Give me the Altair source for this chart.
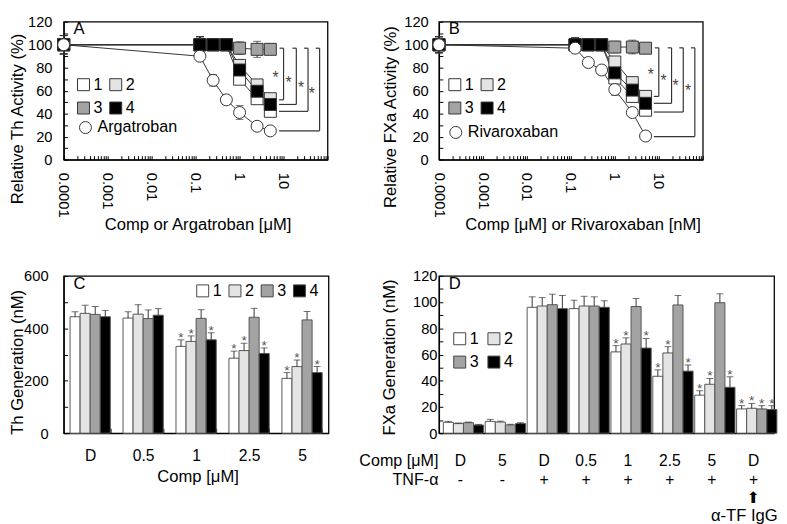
import altair as alt
import pandas as pd

FONT = "Liberation Sans"
SERIES = ["1", "2", "3", "4"]
FILLS = ["#ffffff", "#e4e4e4", "#a3a3a3", "#000000"]

# ---------------- Panel A : relative thrombin activity ----------------
A_conc = [0.0001, 0.125, 0.25, 0.5, 1, 2.5, 5]
A_comp1 = [100, 100, 100, 100, 70, 53, 42]
A_comp2 = [100, 100, 100, 100, 82, 65, 53]
A_comp3 = [100, 100, 100, 100, 97, 96, 96]
A_comp4 = [100, 100, 100, 100, 78, 59.5, 48]
A_argatroban = [100, 90, 69, 52, 41, 29, 25]
A_err1 = [8, 7, 3, 3, 4, 3, 3]
A_err2 = [8, 7, 3, 3, 4, 3, 3]
A_err3 = [8, 7, 3, 3, 5.5, 7, 4.5]
A_err4 = [8, 7, 3, 3, 4, 3, 3]
A_err_ref = [8, 4, 5, 4, 6, 3, 2]
A_br_x = [10, 19.5, 36, 66]
A_br_stub = [8.1, 15.9, 29.3, 53.7]
A_br_top = [97, 97, 97, 97]
A_br_bottom = [52, 48, 42, 25]
A_br_start = [7.9, 7.9, 7.9, 7.9]
A_star_x = [6.6, 12.9, 25, 44]
A_star_y = [74, 70, 65.5, 60]

# ---------------- Panel B : relative FXa activity ----------------
B_conc = [0.0001, 0.125, 0.25, 0.5, 1, 2.5, 5]
B_comp1 = [100, 100, 100, 100, 71, 55, 43]
B_comp2 = [100, 100, 100, 100, 85, 67, 55]
B_comp3 = [100, 100, 100, 100, 98, 98, 97]
B_comp4 = [100, 100, 100, 100, 75.5, 60.5, 49]
B_rivaroxaban = [100, 97, 84.5, 78, 61, 41, 20.5]
B_err1 = [7, 6, 3, 3, 3, 3, 3]
B_err2 = [7, 6, 3, 3, 3, 3, 3]
B_err3 = [7, 6, 3, 3, 5, 6, 3]
B_err4 = [7, 6, 3, 3, 3, 3, 3]
B_err_ref = [7, 3, 4, 2, 5, 3, 2]
B_br_x = [10, 19.5, 36, 66]
B_br_stub = [8.1, 15.9, 29.3, 53.7]
B_br_top = [97.3, 97.3, 97.3, 97.3]
B_br_bottom = [55, 49, 41.4, 20]
B_br_start = [7.7, 7.7, 7.7, 7.7]
B_star_x = [6.6, 12.9, 23.9, 46.4]
B_star_y = [76.6, 71.5, 67, 63]

# ---------------- Panel C : thrombin generation ----------------
C_groups = ["D", "0.5", "1", "2.5", "5"]
C_val1 = [444, 439, 331, 286, 209]
C_val2 = [457, 454, 350, 315, 254]
C_val3 = [453, 437, 438, 442, 432]
C_val4 = [444, 450, 356, 304, 231]
C_err1 = [19, 24, 25, 27, 22]
C_err2 = [31, 36, 21, 28, 25]
C_err3 = [30, 33, 33, 34, 32]
C_err4 = [24, 25, 27, 21, 23]
C_star1 = [0, 0, 1, 1, 1]
C_star2 = [0, 0, 1, 1, 1]
C_star3 = [0, 0, 0, 0, 0]
C_star4 = [0, 0, 1, 1, 1]

# ---------------- Panel D : FXa generation ----------------
D_comp = ["D", "5", "D", "0.5", "1", "2.5", "5", "D"]
D_tnf = ["-", "-", "+", "+", "+", "+", "+", "+ "]
D_val1 = [8.3, 9, 96, 95, 62, 43.4, 29, 18.5]
D_val2 = [7.3, 8.5, 97, 97, 68, 61.2, 37.3, 19]
D_val3 = [8, 6.3, 98, 97, 96.6, 97.8, 99.5, 18.5]
D_val4 = [6.2, 7.3, 95, 96, 64.9, 47.3, 35, 18]
D_err1 = [0.7, 1.5, 8, 6.4, 4.8, 4.9, 3.4, 2.5]
D_err2 = [0.5, 0.7, 6.4, 7.4, 4.7, 4.8, 4.4, 3.7]
D_err3 = [0.5, 0.5, 8, 7, 6.1, 7.2, 6.8, 2.5]
D_err4 = [0.5, 0.7, 10, 5, 7.3, 4.7, 8, 3]
D_star1 = [0, 0, 0, 0, 1, 1, 1, 1]
D_star2 = [0, 0, 0, 0, 1, 1, 1, 1]
D_star3 = [0, 0, 0, 0, 0, 0, 0, 1]
D_star4 = [0, 0, 0, 0, 1, 1, 1, 1]
D_note = ["⬆", "α-TF IgG"]

LOG_MAJOR = [0.0001, 0.001, 0.01, 0.1, 1, 10]
LOG_TICKS = [k * 10.0 ** d for d in range(-4, 2) for k in range(1, 10)] + [100]
LOG_TICKS = [float(f"{v:.6g}") for v in LOG_TICKS]


def letter_title(letter):
    return alt.TitleParams(letter, anchor="start", frame="group", offset=0, dx=10, dy=24,
                           baseline="top", fontSize=17, fontWeight="normal")


def curve_panel(conc, comps, errs, ref_name, ref_vals, ref_err,
                br_x, br_stub, br_top, br_bot, br_start, star_x, star_y,
                letter, ytitle, xtitle, ytitle_x, ytitle_y, xtitle_x,
                ylabel_pad, sq_leg_xy, ref_leg_xy):
    rows = []
    for name, vals, ev in [(ref_name, ref_vals, ref_err)] + list(zip(SERIES, comps, errs)):
        for c, v, e in zip(conc, vals, ev):
            rows.append({"series": name, "conc": c, "value": v, "lo": v - e, "hi": v + e})
    df = pd.DataFrame(rows)
    br = pd.DataFrame({"bx": br_x, "stub": br_stub, "top": br_top, "bot": br_bot,
                       "start": br_start})
    st = pd.DataFrame({"sx": star_x, "sy": star_y})

    xscale = alt.Scale(type="log", domain=[0.0001, 100], nice=False)
    yscale = alt.Scale(domain=[0, 120], nice=False)
    major_js = "[" + ",".join(str(v) for v in LOG_MAJOR) + "]"
    xaxis = alt.Axis(values=LOG_TICKS,
                     labelExpr=f"indexof({major_js}, datum.value) >= 0 ? format(datum.value, '~g') : ''",
                     labelAngle=90, labelAlign="left", labelBaseline="middle",
                     labelPadding=17, labelOverlap=False, tickSize={"expr": "-4"},
                     title=xtitle, titleX=xtitle_x, titleY=67, titleBaseline="middle",
                     titleAlign="center", labelFontSize=15)
    yaxis = alt.Axis(values=list(range(0, 121, 10)),
                     labelExpr="datum.value % 20 === 0 ? datum.label : ''",
                     tickSize={"expr": "-4"}, labelPadding=ylabel_pad, labelOverlap=False,
                     title=ytitle, titleX=ytitle_x, titleY=ytitle_y, titleAngle=-90,
                     titleBaseline="middle", titleAlign="center", labelFontSize=15)

    def X(f):
        return alt.X(f"{f}:Q", scale=xscale, axis=xaxis)

    def Y(f):
        return alt.Y(f"{f}:Q", scale=yscale, axis=yaxis)

    sq_leg = alt.Legend(orient="none", legendX=sq_leg_xy[0], legendY=sq_leg_xy[1], columns=2,
                        direction="horizontal", title=None, symbolSize=150, labelFontSize=16.5,
                        rowPadding=7, columnPadding=5, labelOffset=2, padding=0,
                        symbolStrokeWidth=1, symbolType="square")
    ref_leg = alt.Legend(orient="none", legendX=ref_leg_xy[0], legendY=ref_leg_xy[1],
                         title=None, symbolSize=150, labelFontSize=16.5, labelOffset=4,
                         padding=0, symbolStrokeWidth=1, symbolType="circle")
    base = alt.Chart(df)
    sq = base.transform_filter(alt.FieldOneOfPredicate(field="series", oneOf=SERIES))
    rf = base.transform_filter(alt.FieldEqualPredicate(field="series", equal=ref_name))
    lines = base.mark_line(color="#333", strokeWidth=1).encode(
        x=X("conc"), y=Y("value"), detail="series:N")
    ebar = base.mark_rule(color="#333", strokeWidth=1).encode(
        x=X("conc"), y=Y("lo"), y2="hi:Q")
    cap_lo = base.mark_tick(orient="horizontal", size=8, thickness=1, color="#333").encode(
        x=X("conc"), y=Y("lo"))
    cap_hi = base.mark_tick(orient="horizontal", size=8, thickness=1, color="#333").encode(
        x=X("conc"), y=Y("hi"))
    sq_pts = sq.mark_point(filled=True, shape="square", size=150, strokeWidth=1, opacity=1).encode(
        x=X("conc"), y=Y("value"),
        fill=alt.Fill("series:N", scale=alt.Scale(domain=SERIES, range=FILLS), legend=sq_leg),
        stroke=alt.Stroke("series:N", scale=alt.Scale(domain=SERIES, range=["#333"] * 4), legend=sq_leg))
    rf_pts = rf.mark_point(filled=False, fill="#ffffff", color="#333", size=150, strokeWidth=1,
                           opacity=1).encode(
        x=X("conc"), y=Y("value"),
        shape=alt.Shape("series:N", scale=alt.Scale(domain=[ref_name], range=["circle"]), legend=ref_leg))
    bch = alt.Chart(br)
    vert = bch.mark_rule(color="#333", strokeWidth=1.2).encode(x=X("bx"), y=Y("top"), y2="bot:Q")
    bot_h = bch.mark_rule(color="#333", strokeWidth=1.2).encode(x=X("start"), x2="bx:Q", y=Y("bot"))
    top_h = bch.mark_rule(color="#333", strokeWidth=1.2).encode(x=X("stub"), x2="bx:Q", y=Y("top"))
    stars = alt.Chart(st).mark_text(text="*", fontSize=16, color="#444", dy=4).encode(
        x=X("sx"), y=Y("sy"))
    return alt.layer(lines, ebar, cap_lo, cap_hi, sq_pts, rf_pts, vert, bot_h, top_h, stars).properties(
        width=270, height=141, title=letter_title(letter))


def bar_panel(keys, vals, errs, starflags, ymax, ystep, ylabel_step, width, height,
              pad_inner, letter, ytitle, ytitle_x, ytitle_y, ylabel_pad, xaxis, leg, note=None):
    rows = []
    for s, v_list, e_list, f_list in zip(SERIES, vals, errs, starflags):
        for k, v, e, f in zip(keys, v_list, e_list, f_list):
            rows.append({"group": k, "series": s, "value": v, "hi": v + e, "star": f})
    df = pd.DataFrame(rows)
    xscale = alt.Scale(paddingInner=pad_inner, paddingOuter=pad_inner / 2)
    yscale = alt.Scale(domain=[0, ymax], nice=False)
    yaxis = alt.Axis(values=list(range(0, int(ymax) + 1, ystep)),
                     labelExpr=f"datum.value % {ylabel_step} === 0 ? datum.label : ''",
                     tickSize={"expr": "-4"}, labelPadding=ylabel_pad, labelOverlap=False,
                     title=ytitle, titleX=ytitle_x, titleY=ytitle_y, titleAngle=-90,
                     titleBaseline="middle", titleAlign="center", labelFontSize=15)
    X = alt.X("group:N", sort=keys, scale=xscale, axis=xaxis)
    XO = alt.XOffset("series:N", sort=SERIES, scale=alt.Scale(paddingInner=0, paddingOuter=0))

    def Y(f):
        return alt.Y(f"{f}:Q", scale=yscale, axis=yaxis)

    base = alt.Chart(df)
    bars = base.mark_bar(stroke="#555", strokeWidth=1).encode(
        x=X, xOffset=XO, y=Y("value"),
        fill=alt.Fill("series:N", scale=alt.Scale(domain=SERIES, range=FILLS), legend=leg))
    ebar = base.mark_rule(color="#333", strokeWidth=1).encode(x=X, xOffset=XO, y=Y("value"), y2="hi:Q")
    cap = base.mark_tick(orient="horizontal", size=7, thickness=1, color="#333").encode(
        x=X, xOffset=XO, y=Y("hi"))
    stars = base.transform_filter("datum.star == 1").mark_text(
        text="*", fontSize=14, color="#555", baseline="alphabetic", dy=2).encode(
        x=X, xOffset=XO, y=Y("hi"))
    layers = [bars, ebar, cap, stars]
    if note is not None:
        ndf = pd.DataFrame({"group": [keys[-1]], "zero": [0], "arrow": [note[0]], "label": [note[1]]})
        nb = alt.Chart(ndf)
        layers.append(nb.mark_text(fontSize=16, font="DejaVu Sans", dy=66, color="#000").encode(
            x=X, y=Y("zero"), text="arrow:N"))
        layers.append(nb.mark_text(fontSize=17, dy=85, dx=-9, color="#000").encode(
            x=X, y=Y("zero"), text="label:N"))
    return alt.layer(*layers).properties(width=width, height=height, title=letter_title(letter))


A = curve_panel(A_conc, [A_comp1, A_comp2, A_comp3, A_comp4], [A_err1, A_err2, A_err3, A_err4],
                "Argatroban", A_argatroban, A_err_ref,
                A_br_x, A_br_stub, A_br_top, A_br_bottom, A_br_start, A_star_x, A_star_y,
                "A", "Relative Th Activity (%)", "Comp or Argatroban [μM]",
                -47, 99, 137, 16, (12, 56), (14, 100))
B = curve_panel(B_conc, [B_comp1, B_comp2, B_comp3, B_comp4], [B_err1, B_err2, B_err3, B_err4],
                "Rivaroxaban", B_rivaroxaban, B_err_ref,
                B_br_x, B_br_stub, B_br_top, B_br_bottom, B_br_start, B_star_x, B_star_y,
                "B", "Relative FXa Activity (%)", "Comp [μM] or Rivaroxaban [nM]",
                -49, 97, 147, 15, (8, 56), (9, 105))

C_xaxis = alt.Axis(title="Comp [μM]", labelAngle=0, labelPadding=20, labelBaseline="top",
                   tickBand="extent", tickSize={"expr": "-5"}, titleX=137, titleY=44,
                   titleBaseline="middle", titleAlign="center", labelFontSize=16,
                   labelExpr="isString(datum.value) ? datum.value : ''")
C_leg = alt.Legend(orient="none", legendX=134, legendY=7, direction="horizontal", columns=4,
                   title=None, symbolType="square", symbolSize=150, labelFontSize=16.5,
                   columnPadding=5, labelOffset=2, padding=0,
                   symbolStrokeColor="#444", symbolStrokeWidth=1)
C = bar_panel(C_groups, [C_val1, C_val2, C_val3, C_val4], [C_err1, C_err2, C_err3, C_err4],
              [C_star1, C_star2, C_star3, C_star4], 600, 100, 200, 271, 161, 0.24,
              "C", "Th Generation (nM)", -47, 88, 20, C_xaxis, C_leg)

D_keys = [f"{c}|{t}" for c, t in zip(D_comp, D_tnf)]
D_xaxis = alt.Axis(title=["Comp [μM]", "TNF-α"],
                   labelExpr="isString(datum.value) ? split(datum.value, '|') : ''",
                   labelAngle=0, labelPadding=25, labelBaseline="top", labelLineHeight=20,
                   tickBand="extent", tickSize={"expr": "-5"}, titleX=-1, titleY=20,
                   titleAlign="right", titleBaseline="top", titleLineHeight=20,
                   labelFontSize=16, titleFontSize=16.5)
D_leg = alt.Legend(orient="none", legendX=13, legendY=56, columns=2, direction="horizontal",
                   title=None, symbolType="square", symbolSize=150,
                   labelFontSize=16.5, rowPadding=7, columnPadding=7, labelOffset=2, padding=0,
                   symbolStrokeColor="#444", symbolStrokeWidth=1)
D = bar_panel(D_keys, [D_val1, D_val2, D_val3, D_val4], [D_err1, D_err2, D_err3, D_err4],
              [D_star1, D_star2, D_star3, D_star4], 120, 10, 20, 343, 161, 0.21,
              "D", "FXa Generation (nM)", -50, 83, 6, D_xaxis, D_leg, note=D_note)

chart = alt.concat(A, B, C, D, columns=2, spacing={"row": 119, "column": 113},
                   bounds="flush", align="each").resolve_scale(
    fill="independent", shape="independent", stroke="independent").properties(padding=0)

chart = chart.configure(font=FONT).configure_view(
    stroke="#000", strokeWidth=1.3
).configure_axis(
    domainColor="#000", domainWidth=1.3, tickColor="#000", tickWidth=1,
    labelColor="#000", titleColor="#000", labelFont=FONT, titleFont=FONT,
    titleFontSize=17, titleFontWeight="normal", grid=False
).configure_legend(
    labelFont=FONT, labelColor="#000", labelBaseline="middle"
).configure_title(font=FONT, color="#000")

chart.save("out.html", embed_options={"renderer": "svg", "actions": False})
